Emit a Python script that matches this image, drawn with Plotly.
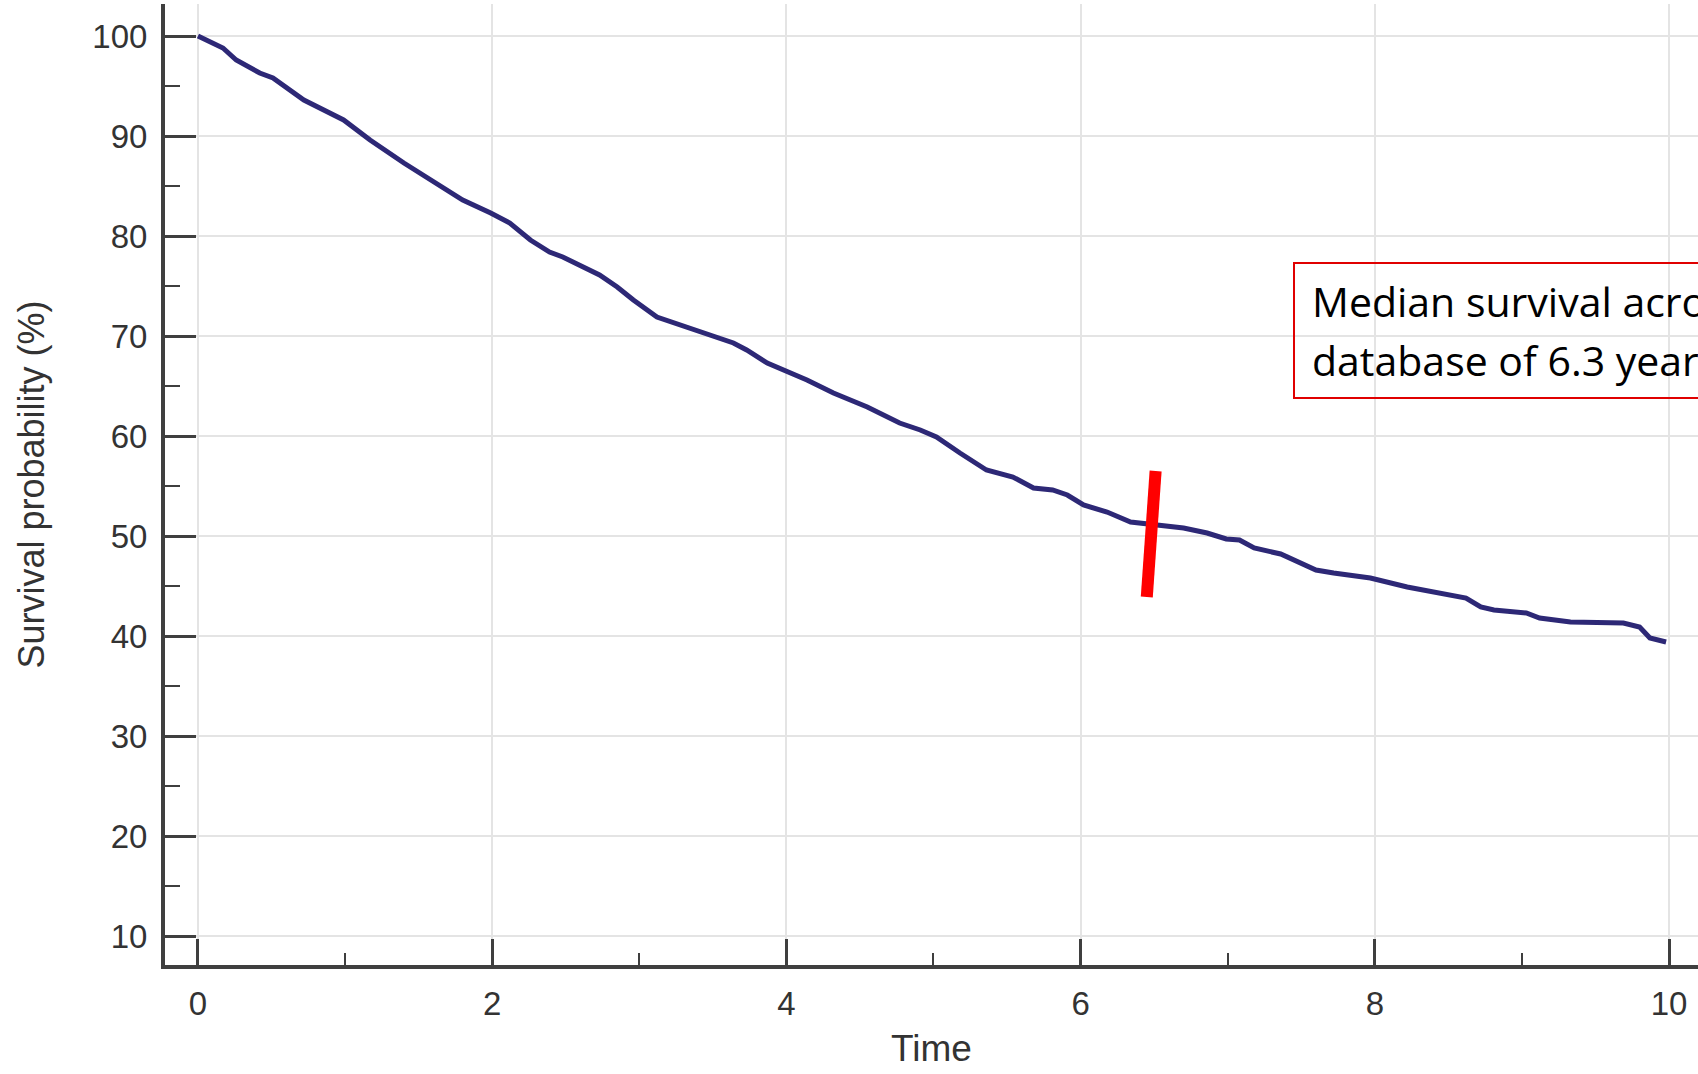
import plotly.graph_objects as go

# Kaplan-Meier curve (time in years, survival in %)
time_years = [0.0, 0.17, 0.26, 0.42, 0.51, 0.72, 0.99, 1.17, 1.40, 1.58, 1.80, 1.99,
              2.12, 2.26, 2.39, 2.48, 2.73, 2.85, 2.96, 3.12, 3.39, 3.64, 3.73, 3.87,
              4.14, 4.32, 4.55, 4.77, 4.91, 5.02, 5.18, 5.36, 5.54, 5.68, 5.81, 5.91,
              6.02, 6.18, 6.34, 6.45, 6.59, 6.70, 6.86, 6.99, 7.08, 7.18, 7.36, 7.49,
              7.60, 7.72, 7.97, 8.22, 8.40, 8.62, 8.72, 8.81, 9.03, 9.12, 9.33, 9.69,
              9.80, 9.87, 9.98]
survival_pct = [100.0, 98.8, 97.6, 96.3, 95.8, 93.6, 91.6, 89.6, 87.3, 85.6, 83.6, 82.3,
                81.3, 79.6, 78.4, 77.9, 76.1, 74.9, 73.6, 71.9, 70.6, 69.3, 68.6, 67.3,
                65.6, 64.3, 62.9, 61.3, 60.6, 59.9, 58.3, 56.6, 55.9, 54.8, 54.6, 54.1,
                53.1, 52.4, 51.4, 51.2, 51.0, 50.8, 50.3, 49.7, 49.6, 48.8, 48.2, 47.4,
                46.6, 46.3, 45.8, 44.9, 44.4, 43.8, 42.9, 42.6, 42.3, 41.8, 41.4, 41.3,
                40.9, 39.8, 39.4]

# red median marker (slightly tilted bar)
median_marker_x = [6.51, 6.45]
median_marker_y = [56.5, 43.9]

x_tick_vals = [0, 2, 4, 6, 8, 10]
y_tick_vals = [10, 20, 30, 40, 50, 60, 70, 80, 90, 100]

note_line1 = "Median survival across the"
note_line2 = "database of 6.3 years"

W, H = 1698, 1074
ML, MR, MT, MB = 165, 0, 4, 109

fig = go.Figure()
fig.add_trace(go.Scatter(x=time_years, y=survival_pct, mode="lines",
                         line=dict(color="#2d2876", width=5),
                         showlegend=False, hoverinfo="skip"))
fig.add_trace(go.Scatter(x=median_marker_x, y=median_marker_y, mode="lines",
                         line=dict(color="#ff0000", width=12),
                         showlegend=False, hoverinfo="skip"))

axis_col = "#3f3f3f"
font_col = "#333333"

fig.update_xaxes(range=[-0.224, 10.197], tickvals=x_tick_vals,
                 showline=True, linecolor=axis_col, linewidth=4,
                 ticks="inside", ticklen=26, tickwidth=3, tickcolor=axis_col,
                 showgrid=True, gridcolor="#e4e4e4", gridwidth=2,
                 zeroline=False, ticklabelstandoff=6,
                 tickfont=dict(family="Liberation Sans, Arial", size=33, color=font_col),
                 minor=dict(dtick=1, tick0=0, ticks="inside", ticklen=12, tickwidth=2,
                            tickcolor=axis_col, showgrid=False),
                 title=dict(text="Time", standoff=16,
                            font=dict(family="Liberation Sans, Arial", size=37, color=font_col)))
fig.update_yaxes(range=[7.1, 103.2], tickvals=y_tick_vals,
                 showline=True, linecolor=axis_col, linewidth=4,
                 ticks="inside", ticklen=31, tickwidth=3, tickcolor=axis_col,
                 showgrid=True, gridcolor="#e4e4e4", gridwidth=2,
                 zeroline=False, ticklabelstandoff=7,
                 tickfont=dict(family="Liberation Sans, Arial", size=33, color=font_col),
                 minor=dict(dtick=5, tick0=0, ticks="inside", ticklen=15, tickwidth=2,
                            tickcolor=axis_col, showgrid=False),
                 title=dict(text="Survival probability (%)", standoff=38,
                            font=dict(family="Liberation Sans, Arial", size=36, color=font_col)))

pw = W - ML - MR
ph = H - MT - MB

def px_x(X):
    return (X - ML) / pw

def px_y(Y):
    return (H - MB - Y) / ph

fig.add_shape(type="rect", xref="paper", yref="paper",
              x0=px_x(1294), x1=px_x(1900), y0=px_y(398), y1=px_y(263),
              line=dict(color="#e00000", width=2), fillcolor="rgba(0,0,0,0)")
fig.add_annotation(xref="paper", yref="paper", x=px_x(1310), y=px_y(301),
                   xanchor="left", yanchor="middle", showarrow=False,
                   text=note_line1, font=dict(family="Open Sans", size=41, color="#000000"))
fig.add_annotation(xref="paper", yref="paper", x=px_x(1310), y=px_y(360),
                   xanchor="left", yanchor="middle", showarrow=False,
                   text=note_line2, font=dict(family="Open Sans", size=41, color="#000000"))

fig.update_layout(width=W, height=H, margin=dict(l=ML, r=MR, t=MT, b=MB),
                  paper_bgcolor="white", plot_bgcolor="white", showlegend=False)

fig.write_html("out.html")
